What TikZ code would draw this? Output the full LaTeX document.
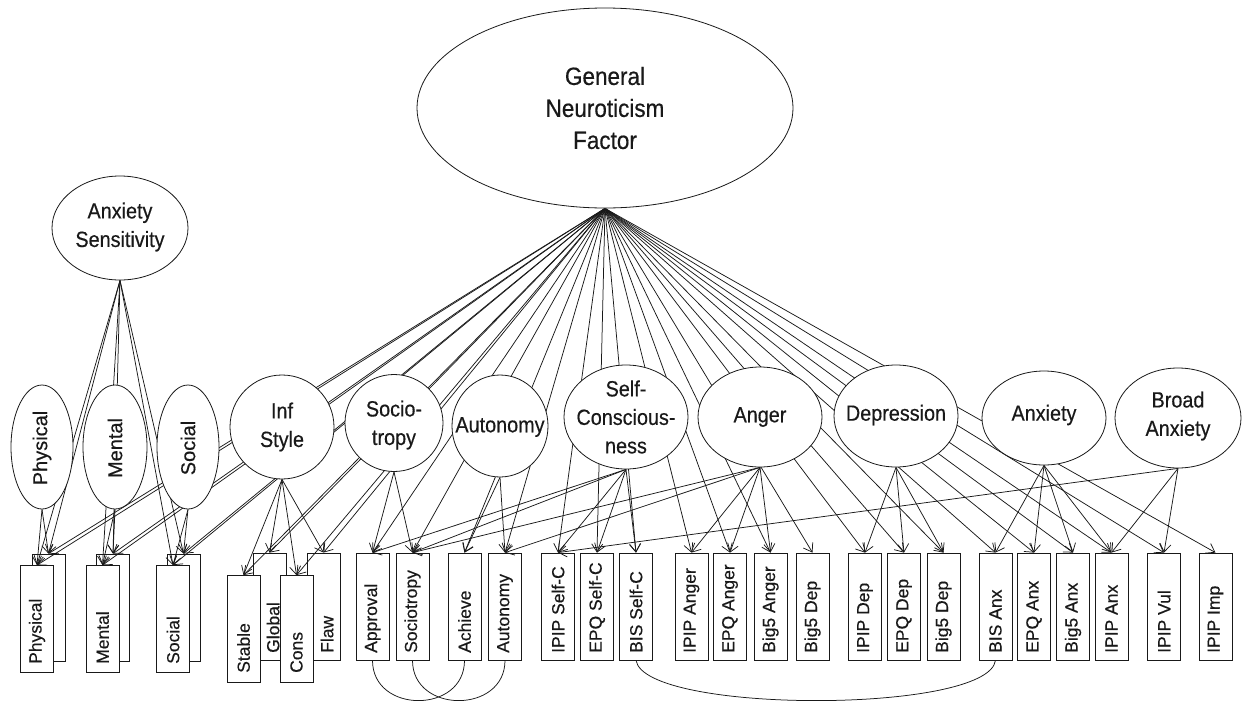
\documentclass[tikz,border=0pt]{standalone}
\usepackage{fontspec}
\setmainfont{Liberation Sans}[FakeStretch=0.9,FakeBold=0.4]
\newfontfamily\vfont{Liberation Sans}[FakeBold=0.4]
\usetikzlibrary{shapes.geometric,arrows.meta}
\pgfdeclarelayer{boxlayer}
\pgfdeclarelayer{linelayer}
\pgfsetlayers{boxlayer,linelayer,main}
\tikzset{
 ell/.style={draw=black!90, ellipse, fill=white, inner sep=0pt, line width=0.8pt},
 etxt/.style={align=center, inner sep=0pt, text=black!90, font=\fontsize{22}{28.5}\selectfont},
 vtxt/.style={rotate=90, inner sep=0pt, text=black!90, font=\vfont\fontsize{20}{22}\selectfont},
 bx/.style={draw=black!90, fill=white, minimum width=33pt, minimum height=107pt, inner sep=0pt, line width=0.8pt},
 blab/.style={rotate=90, anchor=west, inner sep=0pt, text=black!90, font=\vfont\fontsize{17.5}{20}\selectfont},
 arr/.style={draw=black!90, -{Straight Barb[length=8pt,width=11pt]}, line width=0.75pt},
 corr/.style={draw=black!90, line width=0.75pt},
}
\begin{document}
\begin{tikzpicture}[x=1pt,y=-1pt]
\useasboundingbox (0,0) rectangle (1243,702);

% ---------- latent variables ----------
\node[ell, minimum width=376pt, minimum height=200pt] (G) at (605,108) {};
\node[etxt, font=\fontsize{25}{32}\selectfont] (Gt) at (605,108) {General\\Neuroticism\\Factor};

\node[ell, minimum width=136pt, minimum height=104pt] (AS) at (120,228) {};
\node[etxt] (ASt) at (120,227) {Anxiety\\Sensitivity};

\node[ell, minimum width=62pt, minimum height=124pt] (Phy) at (42,447) {};
\node[vtxt] (Phyt) at (42,448) {Physical};
\node[ell, minimum width=64pt, minimum height=124pt] (Men) at (115,447) {};
\node[vtxt] (Ment) at (115,448) {Mental};
\node[ell, minimum width=62pt, minimum height=124pt] (Soc) at (188,447) {};
\node[vtxt] (Soct) at (188,448) {Social};

\node[ell, minimum width=104pt, minimum height=104pt] (Inf) at (282,427) {};
\node[etxt] (Inft) at (282,427) {Inf\\Style};
\node[ell, minimum width=98pt, minimum height=97pt] (Socio) at (394,423) {};
\node[etxt] (Sociot) at (394,425) {Socio-\\tropy};
\node[ell, minimum width=96pt, minimum height=102pt] (Auto) at (500,426) {};
\node[etxt] (Autot) at (500,427) {Autonomy};
\node[ell, minimum width=124pt, minimum height=104pt] (SC) at (626,417) {};
\node[etxt] (SCt) at (626,417) {Self-\\Conscious-\\ness};
\node[ell, minimum width=124pt, minimum height=100pt] (Ang) at (760,417) {};
\node[etxt] (Angt) at (760,417) {Anger};
\node[ell, minimum width=124pt, minimum height=102pt] (Dep) at (896,416) {};
\node[etxt] (Dept) at (896,415) {Depression};
\node[ell, minimum width=124pt, minimum height=94pt] (Anx) at (1044,418) {};
\node[etxt] (Anxt) at (1044,415) {Anxiety};
\node[ell, minimum width=126pt, minimum height=100pt] (BA) at (1178,418) {};
\node[etxt] (BAt) at (1178,416) {Broad\\Anxiety};

% ---------- observed measures ----------
\begin{pgfonlayer}{boxlayer}
\node[bx] (PhyB) at (48.5,607.5) {};
\node[bx] (PhyF) at (37,619) {};
\node[blab] (PhyFt) at (37,664) {Physical};
\node[bx] (MenB) at (113,607.5) {};
\node[bx] (MenF) at (102.5,619) {};
\node[blab] (MenFt) at (102.5,664) {Mental};
\node[bx] (SocB) at (183.5,607.5) {};
\node[bx] (SocF) at (173,619) {};
\node[blab] (SocFt) at (173,664) {Social};

\node[bx] (Global) at (269.5,606.5) {};
\node[blab] (Globalt) at (273,653) {Global};
\node[bx] (Stable) at (243.5,629) {};
\node[blab] (Stablet) at (243.5,673) {Stable};
\node[bx] (Flaw) at (323.5,606.5) {};
\node[blab] (Flawt) at (327,653) {Flaw};
\node[bx] (Cons) at (296.5,629) {};
\node[blab] (Const) at (296.5,673) {Cons};

\foreach \n/\x/\t in {appr/372.5/Approval, sctb/412.5/Sociotropy, achv/464.5/Achieve,
  autb/505/Autonomy, ipsc/558/IPIP Self-C, epsc/597/EPQ Self-C, bssc/636/BIS Self-C,
  ipan/691.5/IPIP Anger, epan/730/EPQ Anger, bfan/770.5/Big5 Anger, bfda/812.5/Big5 Dep,
  ipdp/865/IPIP Dep, epdp/904/EPQ Dep, bfdb/943.5/Big5 Dep, bsax/995.5/BIS Anx,
  epax/1034/EPQ Anx, bfax/1073/Big5 Anx, ipax/1111.5/IPIP Anx, ipvl/1164/IPIP Vul,
  ipim/1215.5/IPIP Imp}{
  \node[bx] (\n) at (\x,606.5) {};
  \node[blab] (\n-t) at (\x,653) {\t};
}
\end{pgfonlayer}

% ---------- paths ----------
\begin{pgfonlayer}{linelayer}
\foreach \t in {PhyF,PhyB,MenF,MenB,SocF,SocB,Stable,Global,Cons,Flaw,appr,sctb,achv,autb,
  ipsc,epsc,bssc,ipan,epan,bfan,bfda,ipdp,epdp,bfdb,bsax,epax,bfax,ipax,ipvl,ipim}
  \draw[arr] (G.south) -- (\t.north);
\foreach \t in {PhyF,PhyB,MenF,MenB,SocF,SocB}
  \draw[arr] (AS.south) -- (\t.north);
\foreach \t in {PhyF,PhyB} \draw[arr] (Phy.south) -- (\t.north);
\foreach \t in {MenF,MenB} \draw[arr] (Men.south) -- (\t.north);
\foreach \t in {SocF,SocB} \draw[arr] (Soc.south) -- (\t.north);
\foreach \t in {Stable,Global,Cons,Flaw} \draw[arr] (Inf.south) -- (\t.north);
\foreach \t in {appr,sctb} \draw[arr] (Socio.south) -- (\t.north);
\foreach \t in {achv,autb} \draw[arr] (Auto.south) -- (\t.north);
\foreach \t in {ipsc,epsc,bssc,appr,sctb} \draw[arr] (SC.south) -- (\t.north);
\foreach \t in {ipan,epan,bfan,sctb,autb} \draw[arr] (Ang.south) -- (\t.north);
\foreach \t in {ipdp,epdp,bfdb} \draw[arr] (Dep.south) -- (\t.north);
\foreach \t in {bsax,epax,bfax,ipax} \draw[arr] (Anx.south) -- (\t.north);
\foreach \t in {ipax,ipvl,ipsc} \draw[arr] (BA.south) -- (\t.north);

\draw[corr] (appr.south) .. controls (372.5,714) and (464.5,714) .. (achv.south);
\draw[corr] (sctb.south) .. controls (412.5,714) and (505,714) .. (autb.south);
\draw[corr] (bssc.south) .. controls (645,714) and (988,714) .. (bsax.south);
\end{pgfonlayer}
\end{tikzpicture}
\end{document}
